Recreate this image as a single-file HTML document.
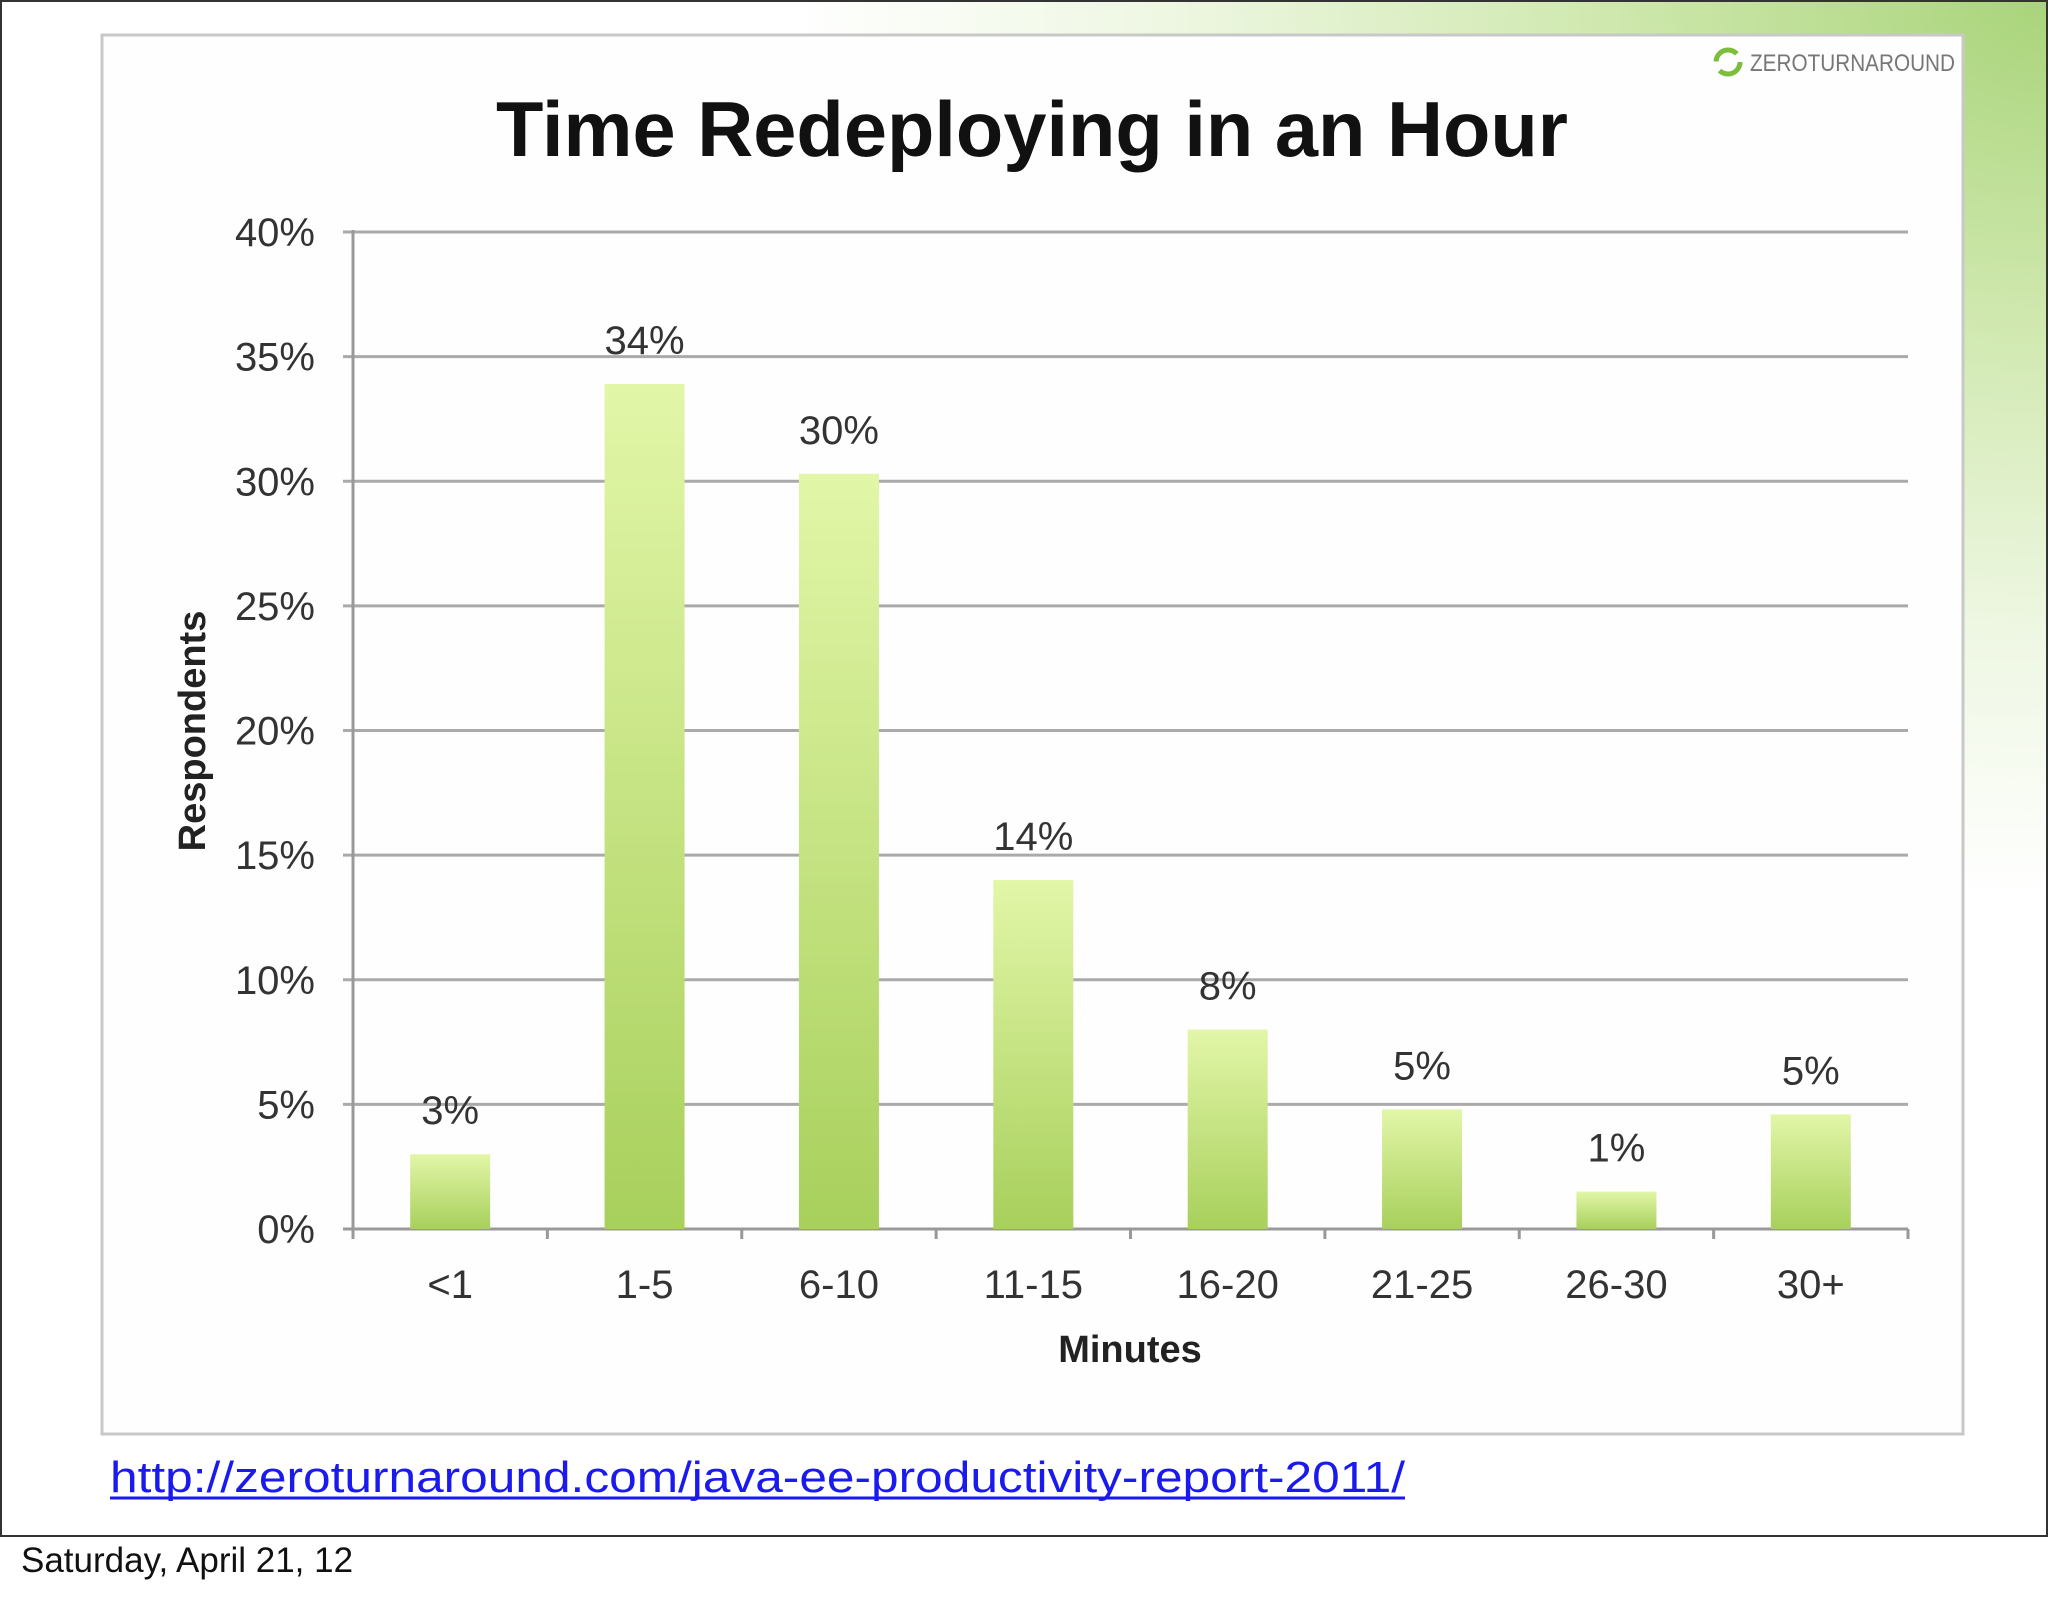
<!DOCTYPE html>
<html><head><meta charset="utf-8">
<style>
html,body{margin:0;padding:0;}
body{width:2048px;height:1593px;position:relative;overflow:hidden;background:#fff;font-family:"Liberation Sans",sans-serif;}
</style></head>
<body>
<svg width="2048" height="1593" viewBox="0 0 2048 1593" xmlns="http://www.w3.org/2000/svg">
<defs>
 <radialGradient id="bg" cx="2048" cy="0" r="900" gradientUnits="userSpaceOnUse" gradientTransform="translate(2048 0) scale(1.4 1) translate(-2048 0)">
  <stop offset="0" stop-color="#a9d47a"/>
  <stop offset="0.35" stop-color="#cfe8ae"/>
  <stop offset="0.7" stop-color="#eef7e2"/>
  <stop offset="1" stop-color="#ffffff"/>
 </radialGradient>
 <linearGradient id="bar" x1="0" y1="0" x2="0" y2="1">
  <stop offset="0" stop-color="#e2f6a8"/>
  <stop offset="1" stop-color="#a8d05c"/>
 </linearGradient>
</defs>
<rect x="0" y="0" width="2048" height="1536" fill="url(#bg)"/>
<rect x="1" y="1" width="2046" height="1535" fill="none" stroke="#333" stroke-width="2"/>
<rect x="102" y="35" width="1861" height="1399" fill="#fefefe" stroke="#c8c8c8" stroke-width="3"/>
<g>
 <circle cx="1728" cy="62" r="12" fill="none" stroke="#7cbd3a" stroke-width="5" stroke-dasharray="28 10"/>
 <text x="1750" y="71" font-size="24" fill="#777" textLength="205" lengthAdjust="spacingAndGlyphs">ZEROTURNAROUND</text>
</g>
<text x="1032" y="156" font-size="78" font-weight="bold" text-anchor="middle" fill="#111" textLength="1072" lengthAdjust="spacingAndGlyphs">Time Redeploying in an Hour</text>
<g id="grid"></g>
<g id="bars"></g>
<g id="labels"></g>
<text transform="translate(205,731) rotate(-90)" font-size="38" font-weight="bold" text-anchor="middle" fill="#222">Respondents</text>
<text x="1130" y="1362" font-size="38" font-weight="bold" text-anchor="middle" fill="#222">Minutes</text>
<text x="110" y="1492" font-size="44" fill="#1a1aee" textLength="1295" lengthAdjust="spacingAndGlyphs">http://zeroturnaround.com/java-ee-productivity-report-2011/</text>
<line x1="110" y1="1498" x2="1405" y2="1498" stroke="#1a1aee" stroke-width="3"/>
<text x="21" y="1572" font-size="35" fill="#111">Saturday, April 21, 12</text>
</svg>
<script>
const categories = ["<1","1-5","6-10","11-15","16-20","21-25","26-30","30+"];
const values = [3.0, 33.9, 30.3, 14.0, 8.0, 4.8, 1.5, 4.6];
const valueLabels = ["3%","34%","30%","14%","8%","5%","1%","5%"];
const yTicks = [0,5,10,15,20,25,30,35,40];
const yTickLabels = ["0%","5%","10%","15%","20%","25%","30%","35%","40%"];

const NS = "http://www.w3.org/2000/svg";
const X0 = 353, X1 = 1908, Y0 = 1229, Y1 = 232, YMAX = 40;
const band = (X1 - X0) / categories.length;
const yScale = v => Y0 - (v / YMAX) * (Y0 - Y1);
const xCenter = i => X0 + band * (i + 0.5);
function mk(tag, attrs, parent, txt) {
  const e = document.createElementNS(NS, tag);
  for (const k in attrs) e.setAttribute(k, attrs[k]);
  if (txt !== undefined) e.textContent = txt;
  parent.appendChild(e);
  return e;
}
const grid = document.getElementById('grid');
const barsG = document.getElementById('bars');
const labG = document.getElementById('labels');

yTicks.forEach((t, i) => {
  const y = yScale(t);
  const gl = mk('line', {x1: X0 - 10, x2: X1, y1: y, y2: y, stroke: i === 0 ? '#999' : '#aaa', 'stroke-width': 3}, grid);
  
  
  const tl = mk('text', {x: 315, y: y + 14, 'font-size': 40, 'text-anchor': 'end', fill: '#333'}, labG, yTickLabels[i]);
  
  
});
const ax = mk('line', {x1: X0, x2: X0, y1: Y1 - 2, y2: Y0 + 2, stroke: '#999', 'stroke-width': 3}, grid);


for (let i = 0; i <= categories.length; i++) {
  const x = X0 + band * i;
  const tk = mk('line', {x1: x, x2: x, y1: Y0, y2: Y0 + 10, stroke: '#999', 'stroke-width': 3}, grid);
  
  
}
const BW = 80;
categories.forEach((c, i) => {
  const cx = xCenter(i);
  const y = yScale(values[i]);
  const b = mk('rect', {x: cx - BW / 2, y: y, width: BW, height: Y0 - y, fill: 'url(#bar)'}, barsG);
  
  
  const vl = mk('text', {x: cx, y: y - 30, 'font-size': 40, 'text-anchor': 'middle', fill: '#333'}, labG, valueLabels[i]);
  
  
  const xl = mk('text', {x: cx, y: 1298, 'font-size': 40, 'text-anchor': 'middle', fill: '#333'}, labG, c);
  
  
});
</script>
</body></html>
